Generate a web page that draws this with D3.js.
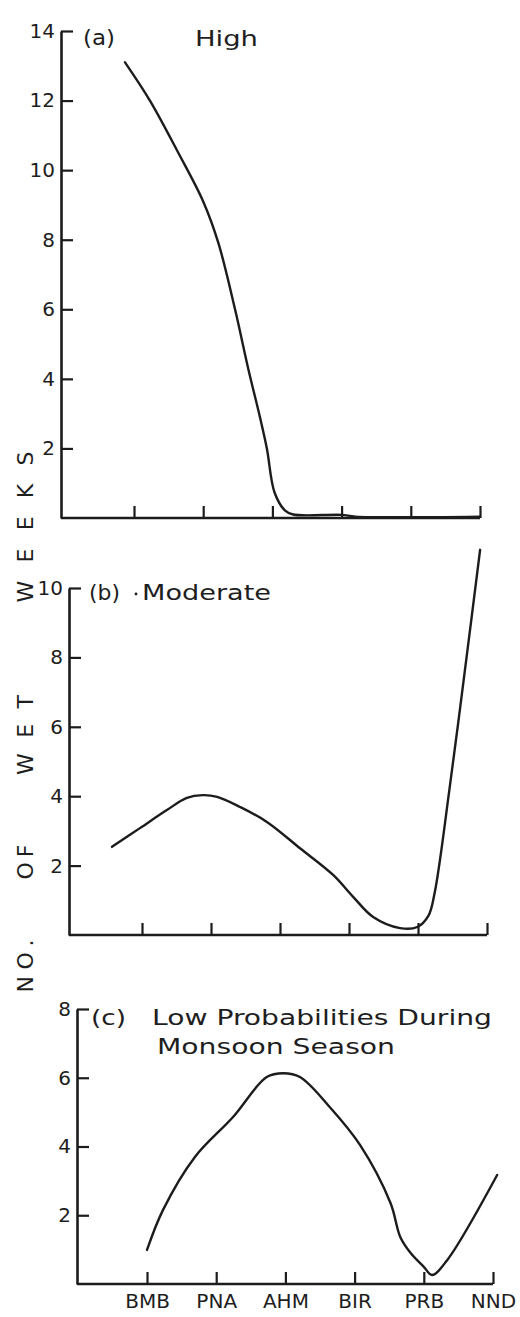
<!DOCTYPE html>
<html>
<head>
<meta charset="utf-8">
<script src="https://cdn.jsdelivr.net/npm/d3@7"></script>
<style>
  html, body { margin: 0; padding: 0; background: #ffffff; }
  svg { display: block; }
  text { font-family: "DejaVu Sans", sans-serif; fill: #1e1e1e; }
</style>
</head>
<body>
<script>
// ---- data ----
const categories = ["BMB", "PNA", "AHM", "BIR", "PRB", "NND"];
const categoryIndex = [0, 1, 2, 3, 4, 5];

// (a) High
const highPos = [-0.13, 0.23, 0.64, 1.0, 1.22, 1.46, 1.65, 1.82, 1.92, 2.03, 2.18, 2.3, 3.0, 3.2, 5.0];
const highVal = [13.1, 12.0, 10.5, 9.1, 7.9, 6.0, 4.3, 2.9, 2.0, 0.74, 0.22, 0.1, 0.09, 0.04, 0.04];
const highTicks = [2, 4, 6, 8, 10, 12, 14];

// (b) Moderate
const modPos = [-0.435, -0.03, 0.36, 0.65, 0.88, 1.09, 1.42, 1.81, 2.29, 2.77, 3.06, 3.35, 3.74, 3.99, 4.15, 4.24, 4.46, 4.71, 4.9];
const modVal = [2.54, 3.08, 3.6, 3.95, 4.03, 3.98, 3.69, 3.26, 2.5, 1.73, 1.1, 0.52, 0.2, 0.23, 0.55, 1.2, 4.26, 8.1, 11.1];
const modTicks = [2, 4, 6, 8, 10];

// (c) Low probabilities
const lowPos = [0, 0.23, 0.69, 1.24, 1.73, 1.97, 2.21, 2.64, 3.08, 3.52, 3.66, 3.81, 4.0, 4.12, 4.34, 5.06];
const lowVal = [0.99, 2.15, 3.69, 4.85, 6.02, 6.13, 6.02, 5.15, 4.04, 2.35, 1.37, 0.9, 0.5, 0.26, 0.7, 3.17];
const lowTicks = [2, 4, 6, 8];

const yTitleWords = ["NO.", "OF", "WET", "WEEKS"];

// ---- drawing ----
const W = 520, H = 1317;
const ink = "#1c1c1c";
const svg = d3.select("body").append("svg").attr("width", W).attr("height", H);

const panels = [
  { pos: highPos, val: highVal, ticks: highTicks, max: 14, axisX: 61, firstTick: 134, lastTick: 480, y0: 518, yTop: 31, labels: false },
  { pos: modPos, val: modVal, ticks: modTicks, max: 10, axisX: 69, firstTick: 142, lastTick: 487, y0: 935, yTop: 588, labels: false },
  { pos: lowPos, val: lowVal, ticks: lowTicks, max: 8, axisX: 77, firstTick: 147, lastTick: 493, y0: 1284, yTop: 1009, labels: true }
];

panels.forEach(p => {
  const x = d3.scaleLinear().domain([0, 5]).range([p.firstTick, p.lastTick]);
  const y = d3.scaleLinear().domain([0, p.max]).range([p.y0, p.yTop]);

  // x axis
  const xAxis = d3.axisBottom(x).tickValues(categoryIndex).tickSize(-12).tickSizeOuter(0)
    .tickPadding(10)
    .tickFormat(p.labels ? (d => categories[d]) : (() => ""));
  const gx = svg.append("g").attr("transform", `translate(0,${p.y0})`).call(xAxis);
  gx.select(".domain").attr("d", `M${p.axisX},0H${p.lastTick}`);
  gx.selectAll("line").attr("stroke", ink).attr("stroke-width", 2.2);
  gx.select(".domain").attr("stroke", ink).attr("stroke-width", 2.6);
  gx.selectAll("text").attr("font-size", 20).attr("fill", ink)
    .attr("font-family", "DejaVu Sans");

  // y axis
  const yAxis = d3.axisLeft(y).tickValues(p.ticks).tickSize(-12).tickSizeOuter(0).tickPadding(6);
  const gy = svg.append("g").attr("transform", `translate(${p.axisX},0)`).call(yAxis);
  gy.select(".domain").attr("stroke", ink).attr("stroke-width", 2.6);
  gy.selectAll("line").attr("stroke", ink).attr("stroke-width", 2.2);
  gy.selectAll("text").attr("font-size", 20).attr("fill", ink)
    .attr("font-family", "DejaVu Sans");

  // curve
  const pts = p.pos.map((d, i) => [d, p.val[i]]);
  const line = d3.line().x(d => x(d[0])).y(d => y(d[1])).curve(d3.curveCatmullRom.alpha(0.5));
  svg.append("path").datum(pts).attr("d", line)
    .attr("fill", "none").attr("stroke", ink).attr("stroke-width", 2.4)
    .attr("stroke-linejoin", "round").attr("stroke-linecap", "round");
});

// panel titles
function label(txt, x0, x1, baseline, size) {
  svg.append("text").attr("x", x0).attr("y", baseline)
    .attr("font-size", size).attr("textLength", x1 - x0)
    .attr("lengthAdjust", "spacingAndGlyphs").text(txt);
}
label("(a)", 83, 115, 45, 22);
label("High", 195, 258, 46, 22);
label("(b)", 89, 120, 600, 22);
svg.append("circle").attr("cx", 136).attr("cy", 594).attr("r", 1.4).attr("fill", ink);
label("Moderate", 142, 271, 600, 22);
label("(c)", 91, 126, 1025, 22);
label("Low Probabilities During", 152, 492, 1025, 22);
label("Monsoon Season", 157, 395, 1054, 22);

// vertical axis title, reading bottom to top
const titleCenters = [966, 862, 735, 527];
const titleLengths = [53, 35, 80, 151];
yTitleWords.forEach((w, i) => {
  svg.append("text")
    .attr("transform", `translate(33,${titleCenters[i] + titleLengths[i] / 2}) rotate(-90)`)
    .attr("x", 0).attr("y", 0)
    .attr("font-size", 22)
    .attr("textLength", titleLengths[i]).attr("lengthAdjust", "spacing")
    .text(w);
});
</script>
</body>
</html>
